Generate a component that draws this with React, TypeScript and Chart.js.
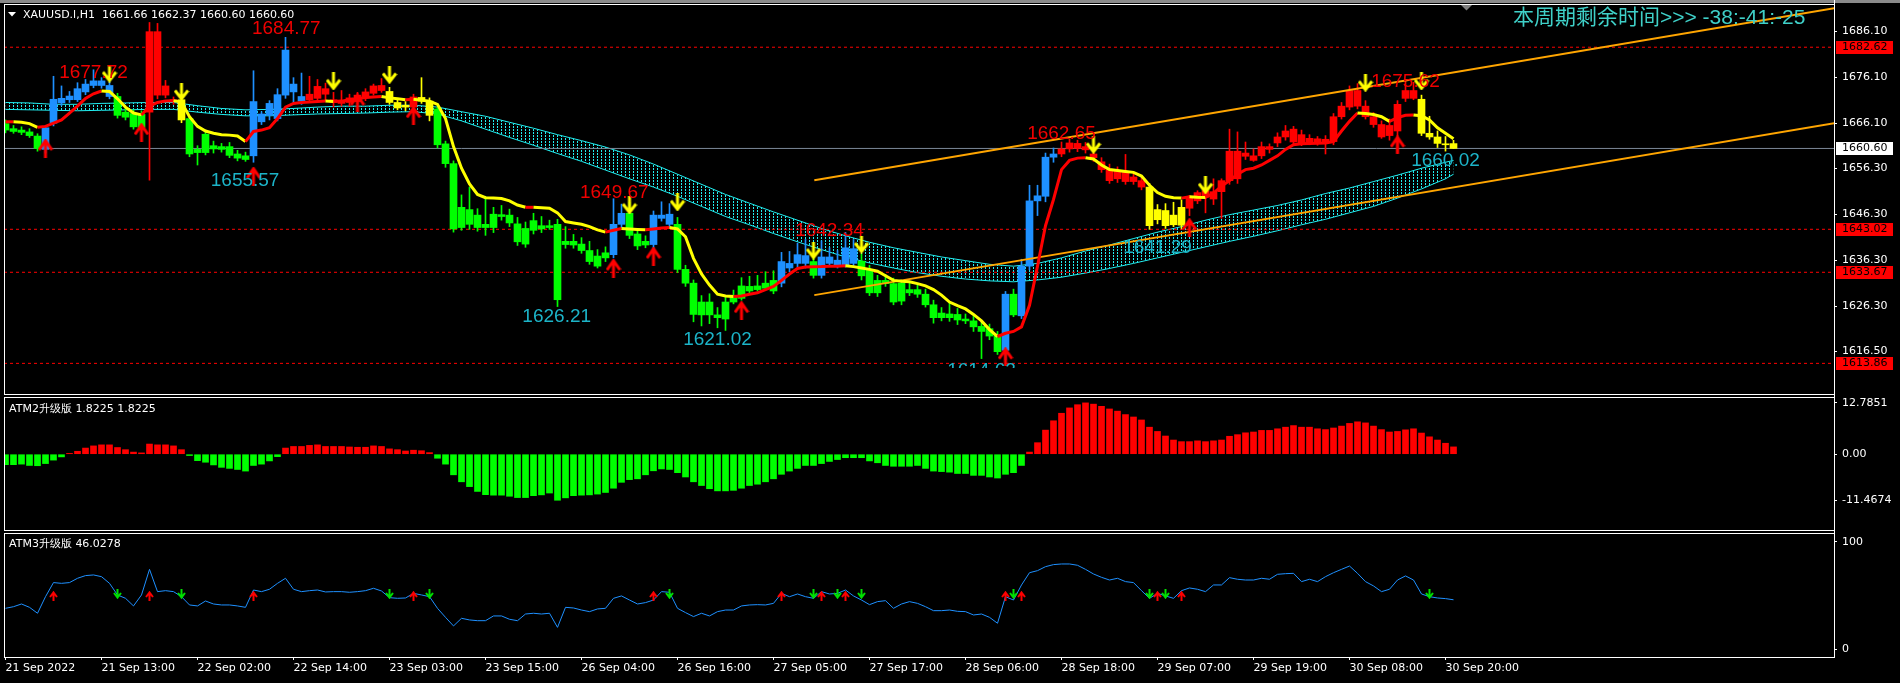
import React, { useEffect, useRef } from "react";
import { Chart, registerables } from "chart.js";

Chart.register(...registerables);

// ---------------- DATA ----------------
const opens = [
  1666.0,1664.9,1664.6,1664.2,1663.3,1660.4,1666.1,1670.5,1671.2,1671.2,
  1672.9,1674.3,1674.3,1671.9,1671.9,1668.5,1668.2,1668.0,1668.5,1672.2,
  1672.2,1671.0,1671.2,1667.1,1660.4,1663.7,1661.2,1661.0,1661.0,1659.4,
  1659.0,1659.0,1666.4,1667.8,1667.1,1672.2,1672.9,1670.9,1671.2,1671.5,
  1672.4,1671.2,1670.4,1670.6,1670.8,1671.6,1672.6,1673.2,1673.0,1670.6,
  1670.0,1669.6,1671.7,1670.9,1669.2,1661.6,1657.3,1647.8,1647.3,1646.1,
  1644.1,1646.3,1646.2,1646.1,1644.2,1643.2,1644.9,1643.8,1643.8,1644.1,
  1640.4,1640.4,1639.8,1638.4,1637.2,1637.9,1637.5,1644.1,1646.5,1642.0,
  1640.4,1639.7,1645.4,1644.1,1644.1,1634.3,1631.3,1627.2,1627.2,1624.4,
  1627.2,1628.6,1630.7,1630.6,1630.7,1631.3,1631.9,1631.3,1634.6,1635.6,
  1635.6,1636.0,1633.0,1635.6,1635.3,1635.3,1635.6,1636.1,1634.3,1631.9,
  1631.9,1631.2,1631.3,1629.9,1629.9,1628.9,1626.6,1624.8,1624.6,1624.5,
  1623.5,1623.1,1621.9,1621.4,1619.8,1616.7,1628.9,1624.2,1635.0,1649.2,
  1650.2,1658.7,1659.4,1660.5,1660.6,1661.0,1659.4,1657.7,1656.0,1655.8,
  1655.4,1654.4,1653.6,1652.2,1647.3,1647.1,1646.1,1647.8,1647.6,1649.2,
  1650.0,1649.6,1651.2,1653.6,1654.0,1659.6,1659.0,1659.0,1660.4,1661.8,
  1663.1,1662.0,1661.8,1661.9,1661.9,1661.9,1662.1,1667.5,1669.6,1673.2,
  1669.8,1667.5,1665.8,1665.6,1664.4,1671.5,1673.2,1671.3,1663.9,1663.1,
  1661.6,1661.66,
];
const highs = [
  1666.8,1665.6,1665.3,1664.9,1663.8,1665.6,1676.3,1674.2,1673.0,1674.9,
  1675.6,1677.72,1676.0,1675.4,1672.6,1669.6,1669.0,1668.8,1688.0,1687.8,
  1675.4,1671.8,1671.8,1667.6,1661.2,1664.6,1662.2,1661.7,1661.9,1660.2,
  1659.8,1677.5,1668.6,1671.0,1673.6,1684.77,1676.0,1677.0,1676.3,1675.6,
  1674.8,1672.8,1673.2,1672.4,1672.8,1673.6,1674.6,1675.8,1673.9,1671.2,
  1670.8,1672.4,1676.0,1671.6,1669.8,1662.2,1657.9,1650.5,1652.2,1647.5,
  1650.2,1647.8,1648.2,1647.4,1645.6,1644.6,1646.5,1645.8,1645.0,1645.2,
  1643.6,1641.9,1641.2,1640.4,1638.6,1639.2,1649.67,1648.5,1648.9,1643.2,
  1641.6,1647.0,1649.0,1648.6,1645.6,1635.2,1632.0,1628.6,1629.0,1626.0,
  1628.2,1629.8,1632.5,1632.8,1633.0,1633.8,1634.0,1638.0,1638.2,1640.0,
  1640.8,1637.0,1640.5,1639.0,1638.4,1642.34,1640.8,1637.6,1635.2,1633.0,
  1633.2,1632.4,1632.0,1631.4,1631.0,1630.0,1627.6,1626.0,1627.0,1625.8,
  1624.6,1624.2,1623.0,1622.4,1620.8,1629.5,1630.0,1636.5,1652.6,1652.6,
  1659.6,1660.7,1662.0,1662.65,1662.4,1661.9,1660.4,1658.6,1657.2,1656.6,
  1659.3,1655.2,1654.4,1653.0,1648.4,1648.6,1648.9,1649.4,1650.4,1651.4,
  1652.0,1654.0,1654.0,1664.8,1664.2,1662.0,1660.5,1662.0,1661.6,1664.0,
  1665.6,1665.4,1664.6,1663.6,1663.2,1663.4,1668.2,1670.6,1674.2,1674.7,
  1671.0,1668.4,1666.6,1667.0,1671.0,1675.62,1675.0,1672.2,1667.6,1664.4,
  1663.2,1662.37,
];
const lows = [
  1664.0,1663.9,1663.6,1663.0,1660.0,1659.6,1665.5,1669.9,1670.6,1670.8,
  1672.3,1673.8,1673.7,1671.4,1667.2,1666.8,1664.8,1664.9,1653.7,1671.4,
  1671.6,1670.2,1666.2,1658.8,1657.0,1659.2,1659.6,1659.8,1658.6,1657.9,
  1657.8,1657.6,1665.8,1666.8,1666.6,1671.5,1670.5,1670.2,1670.6,1670.8,
  1671.0,1669.6,1669.8,1669.8,1670.2,1671.0,1672.2,1672.8,1670.2,1669.0,
  1668.8,1668.9,1670.4,1666.6,1660.7,1656.5,1642.4,1642.8,1643.0,1642.6,
  1641.7,1642.3,1645.0,1643.6,1639.5,1639.1,1642.0,1642.3,1643.0,1626.21,
  1638.9,1638.9,1637.8,1635.4,1634.6,1636.0,1636.8,1643.4,1641.0,1638.6,
  1639.0,1638.6,1644.8,1643.4,1633.6,1630.6,1622.9,1622.0,1622.5,1621.6,
  1621.02,1626.8,1627.6,1629.2,1629.6,1630.0,1629.0,1630.5,1633.8,1634.8,
  1634.6,1632.4,1632.4,1635.0,1634.6,1634.8,1634.8,1632.0,1628.6,1628.4,
  1630.6,1626.6,1626.6,1628.6,1628.2,1626.1,1622.6,1623.1,1623.0,1622.3,
  1622.5,1620.8,1614.9,1619.0,1615.8,1614.62,1624.0,1623.6,1634.2,1646.0,
  1649.0,1657.6,1658.8,1659.8,1659.9,1659.6,1657.8,1655.4,1653.0,1653.2,
  1652.8,1652.8,1651.6,1643.0,1644.2,1643.2,1643.6,1643.2,1646.0,1648.6,
  1646.6,1648.4,1645.4,1652.8,1653.0,1658.2,1657.8,1658.4,1659.6,1661.0,
  1662.4,1661.4,1661.2,1661.4,1661.3,1659.4,1661.4,1667.0,1669.0,1669.2,
  1667.0,1665.2,1662.8,1662.4,1659.7,1670.8,1671.2,1663.4,1662.6,1660.8,
  1660.02,1660.60,
];
const closes = [
  1664.6,1664.3,1664.1,1663.4,1660.6,1665.1,1671.3,1671.5,1672.0,1673.6,
  1674.6,1675.3,1675.3,1674.3,1667.8,1667.4,1665.3,1665.2,1686.0,1686.0,
  1674.2,1671.2,1666.8,1659.4,1659.7,1659.7,1660.5,1660.4,1659.1,1658.5,
  1658.2,1670.8,1668.1,1670.4,1672.3,1682.0,1674.6,1671.9,1672.4,1674.1,
  1673.6,1670.6,1671.0,1671.6,1672.2,1672.9,1674.2,1674.3,1670.6,1669.4,
  1669.6,1671.8,1670.9,1667.8,1661.4,1657.3,1643.1,1643.4,1644.1,1643.4,
  1643.4,1643.4,1645.8,1644.4,1640.3,1639.8,1642.8,1643.1,1643.4,1627.7,
  1639.7,1639.6,1638.4,1636.0,1635.0,1636.8,1644.1,1646.5,1641.7,1639.4,
  1639.6,1646.1,1646.1,1646.3,1634.3,1631.3,1624.5,1624.4,1624.4,1623.8,
  1623.5,1627.2,1628.0,1629.6,1629.9,1630.2,1629.6,1636.0,1635.6,1637.5,
  1637.3,1633.0,1637.0,1637.0,1636.3,1639.0,1638.8,1632.9,1629.2,1629.2,
  1631.2,1627.2,1627.4,1629.2,1628.9,1626.6,1623.8,1623.8,1623.8,1623.3,
  1623.1,1621.8,1620.8,1619.8,1616.4,1628.9,1624.4,1635.0,1649.2,1650.3,
  1658.7,1659.4,1660.5,1661.8,1661.7,1660.3,1658.6,1656.0,1653.6,1654.0,
  1653.4,1653.4,1652.2,1643.8,1645.1,1643.8,1644.0,1643.9,1650.0,1651.0,
  1651.4,1651.2,1653.6,1660.0,1660.0,1658.9,1658.0,1661.0,1661.0,1663.1,
  1664.4,1664.8,1663.6,1662.8,1662.7,1662.6,1667.5,1669.8,1673.2,1669.8,
  1667.5,1665.8,1663.1,1663.4,1670.2,1673.2,1671.5,1663.9,1663.1,1661.7,
  1661.4,1660.60,
];
// candle colour state: B = blue, G = green, R = red, Y = yellow
const candleStates = (
  "GGGGG" + "BBBBBBBBB" + "GGGG" + "RRRR" + "Y" + "GGGGGGGG" + "BBBBBBB" +
  "RRRRRRRRRR" + "YYY" + "R" + "YY" + "GGGGGGGGGGGGGGGGGGGGGG" + "BB" + "GGG" +
  "BBB" + "GGGGGGGGGGGGG" + "BBBB" + "G" + "BBBBB" + "GGGGGGGGGGGGGGGGGG" +
  "B" + "G" + "BBBBB" + "RRRRRRRRRRR" + "YYYYY" +
  "RRRRRRRRRRRRRRRRRRRRRRRRRRRRR" + "YYYYY"
).split("");

const maLine = [
  1666.4,1666.4,1666.3,1666.0,1665.2,1665.4,1666.1,1666.8,1668.3,1669.8,
  1671.5,1672.5,1673.1,1673.0,1671.4,1669.6,1668.3,1667.9,1669.8,1670.6,
  1670.9,1671.0,1670.7,1667.5,1665.4,1664.4,1663.9,1663.6,1663.5,1663.3,
  1662.1,1664.3,1664.6,1665.1,1667.1,1669.6,1670.4,1670.6,1670.7,1670.8,
  1670.9,1670.8,1670.9,1671.2,1671.4,1671.7,1671.8,1671.9,1671.6,1671.4,
  1671.2,1671.3,1671.1,1670.9,1670.2,1667.1,1661.0,1656.3,1652.9,1650.6,
  1649.9,1649.8,1649.7,1649.2,1648.3,1647.8,1647.8,1647.7,1647.6,1646.6,
  1644.7,1644.4,1644.1,1643.6,1642.9,1642.4,1642.8,1643.2,1643.1,1643.0,
  1642.9,1643.1,1643.3,1643.4,1643.1,1641.4,1636.7,1633.3,1630.9,1628.9,
  1628.5,1628.4,1628.5,1628.9,1629.2,1629.9,1630.6,1631.9,1633.3,1634.5,
  1634.8,1634.85,1634.9,1635.0,1635.0,1635.1,1634.9,1634.6,1634.3,1633.9,
  1632.9,1631.9,1631.7,1631.6,1631.2,1630.7,1629.9,1628.7,1627.2,1626.4,
  1625.7,1624.5,1623.1,1621.2,1619.7,1620.4,1620.8,1621.8,1626.5,1635.0,
  1643.8,1649.5,1656.0,1658.0,1658.5,1658.6,1658.3,1657.0,1656.0,1655.8,
  1655.6,1655.4,1654.6,1652.6,1651.0,1650.2,1649.9,1649.8,1650.1,1650.0,
  1649.95,1650.9,1652.4,1653.6,1655.0,1656.0,1656.3,1657.0,1658.0,1659.0,
  1660.4,1661.4,1661.6,1661.7,1661.75,1661.8,1662.1,1664.4,1666.5,1668.3,
  1668.2,1668.0,1667.5,1666.5,1667.3,1667.8,1667.9,1667.7,1666.8,1665.1,
  1663.9,1662.7,
];

const ribbonBars = [
  0,3,6,9,12,15,18,21,24,27,30,33,36,39,42,45,48,51,54,57,60,63,66,69,72,75,
  78,81,84,87,90,93,96,99,102,105,108,111,114,117,120,123,126,129,132,135,
  138,141,144,147,150,153,156,159,162,165,168,171,174,177,180,181,
];
const ribbonTop = [
  1670.6,1670.5,1670.2,1670.2,1670.4,1670.5,1670.6,1670.6,1669.9,1669.3,
  1669.0,1669.1,1669.3,1669.6,1669.8,1669.8,1670.0,1670.0,1669.6,1668.6,
  1667.6,1666.3,1665.0,1663.6,1662.3,1660.9,1659.2,1657.2,1655.0,1652.8,
  1650.6,1648.7,1646.8,1645.0,1643.2,1641.6,1640.2,1639.0,1638.0,1637.0,
  1636.2,1635.4,1635.0,1635.6,1636.8,1638.3,1639.6,1641.0,1642.4,1643.6,
  1645.0,1646.2,1647.2,1648.2,1649.4,1650.8,1652.0,1653.4,1654.8,1656.3,
  1657.6,1658.0,
];
const ribbonBottom = [
  1669.1,1669.0,1668.9,1668.8,1668.9,1669.0,1669.1,1669.1,1668.5,1668.0,
  1667.7,1667.7,1667.9,1668.1,1668.2,1668.3,1668.5,1668.6,1668.1,1666.6,
  1664.8,1663.0,1661.3,1659.5,1657.8,1655.9,1654.0,1652.2,1650.2,1648.0,
  1645.8,1644.0,1642.1,1640.3,1638.6,1637.0,1635.7,1634.6,1633.6,1632.8,
  1632.2,1631.8,1631.6,1632.0,1632.6,1633.5,1634.5,1635.6,1636.8,1638.0,
  1639.2,1640.4,1641.5,1642.7,1644.0,1645.2,1646.6,1648.0,1649.8,1651.8,
  1654.0,1655.0,
];

const channelBars = [101.1, 228.6];
const channelUpper = [1653.7, 1691.1];
const channelLower = [1628.7, 1666.1];

const levelLines = [1682.62, 1643.02, 1633.67, 1613.86];
const currentPrice = 1660.6;

const upArrowBars = [5, 17, 31, 44, 51, 76, 81, 92, 125, 148, 174];
const upArrowPrices = [1660.7, 1664.1, 1654.6, 1670.5, 1667.8, 1634.6, 1637.2, 1625.4, 1615.3, 1643.4, 1661.4];
const downArrowBars = [13, 22, 41, 48, 78, 84, 101, 107, 136, 150, 170, 177];
const downArrowPrices = [1676.9, 1672.9, 1675.2, 1676.6, 1648.2, 1648.9, 1638.4, 1639.7, 1661.4, 1652.6, 1674.9, 1675.2];

const labelTexts = ["1677.72","1684.77","1655.57","1649.67","1626.21","1621.02","1642.34","1614.62","1662.65","1641.29","1675.62","1660.02"];
const labelBars = [11, 35.1, 29.95, 76.1, 68.9, 89.0, 103, 122, 132, 144, 175, 180];
const labelPrices = [1677.1, 1686.6, 1653.6, 1650.9, 1624.0, 1618.9, 1642.6, 1612.2, 1663.7, 1639.0, 1675.2, 1658.0];
const labelKinds = ["hi","hi","lo","hi","lo","lo","hi","lo","hi","lo","hi","lo"];

const priceTicks = [1686.1, 1676.1, 1666.1, 1656.3, 1646.3, 1636.3, 1626.3, 1616.5];

const atm2 = [
  -2.6,-2.6,-2.47,-2.8,-2.87,-2.33,-1.47,-0.67,0.2,0.73,
  1.53,2.07,2.33,2.33,1.67,1.13,0.53,0.33,2.53,2.33,
  2.33,2.07,1.13,-0.33,-1.6,-2.0,-2.67,-3.27,-3.53,-3.8,
  -4.2,-2.8,-2.47,-1.67,-0.6,1.53,1.93,1.93,2.2,2.33,
  1.93,1.93,1.93,1.8,1.73,1.73,2.07,1.93,1.33,1.13,
  0.8,1.0,0.87,0.4,-1.0,-2.47,-5.13,-6.87,-8.07,-9.27,
  -10.07,-10.2,-10.2,-10.47,-10.8,-10.8,-10.33,-10.13,-9.67,-11.4674,
  -10.87,-10.33,-10.2,-10.13,-9.93,-9.53,-8.47,-7.0,-6.33,-6.13,
  -5.13,-4.13,-3.67,-3.8,-4.6,-5.67,-6.87,-7.8,-8.6,-9.13,
  -9.13,-9.0,-8.47,-7.8,-7.47,-6.87,-6.13,-5.0,-4.2,-3.53,
  -2.8,-2.8,-2.33,-1.8,-1.33,-0.87,-0.87,-0.87,-1.67,-2.13,
  -2.8,-3.0,-3.0,-3.0,-2.8,-3.53,-4.2,-4.33,-4.47,-4.8,
  -4.8,-5.27,-5.27,-5.67,-5.93,-5.0,-4.6,-2.8,0.53,2.87,
  6.0,8.33,10.2,11.53,12.33,12.7851,12.47,11.93,11.27,10.73,
  9.87,9.27,8.53,6.73,5.67,4.53,3.53,3.13,3.13,3.33,
  3.13,3.33,3.53,4.47,4.87,5.33,5.53,5.93,5.93,6.33,
  6.73,7.13,6.73,6.73,6.33,6.13,6.53,7.0,7.67,8.07,
  7.8,7.0,6.13,5.53,5.67,6.07,6.33,5.27,4.33,3.53,
  2.73,1.8225,
];
const atm2Ticks = [12.7851, 0, -11.4674];
const atm2TickLabels = ["12.7851", "0.00", "-11.4674"];

const atm3 = [
  38.1,39.6,42.1,39.0,33.5,48.9,62.0,61.3,62.0,66.0,
  68.5,69.1,67.5,61.3,50.5,47.4,40.3,50.5,74.3,53.6,
  54.5,53.6,48.9,41.2,40.3,44.9,42.1,41.2,41.2,40.3,
  39.0,55.1,53.6,55.8,61.3,66.0,55.8,53.6,54.5,55.1,
  53.3,53.6,53.6,53.0,53.6,54.5,56.7,54.2,48.0,47.4,
  47.7,52.0,50.5,48.9,38.1,29.7,21.7,28.8,27.3,26.6,
  26.6,31.0,31.0,27.9,26.6,32.8,33.5,32.8,33.5,20.4,
  39.0,38.4,36.5,35.0,37.5,38.1,47.4,49.6,45.8,42.1,
  43.4,45.8,53.6,53.0,38.1,34.1,30.4,33.5,31.0,35.0,
  36.5,36.5,40.3,41.2,41.5,41.2,42.7,52.0,48.9,51.4,
  48.9,47.4,53.6,51.4,52.0,55.1,49.6,45.8,41.5,44.3,
  45.2,38.1,42.1,44.3,42.7,39.6,35.9,35.9,36.5,35.3,
  35.0,31.9,32.8,29.7,24.2,48.9,45.8,59.8,71.2,73.1,
  76.8,78.7,79.3,79.3,78.1,74.3,70.0,66.9,64.4,66.0,
  62.9,62.0,54.5,47.4,52.0,49.6,47.4,54.5,57.0,55.8,
  53.6,59.8,59.8,66.6,65.1,64.4,64.4,66.0,65.1,69.7,
  70.3,70.6,62.9,65.1,62.9,67.5,71.2,74.3,77.4,70.6,
  62.9,58.9,53.6,55.8,64.4,68.2,64.4,51.4,48.9,47.7,
  47.1,46.0278,
];
const atm3UpBars = [6, 18, 31, 51, 81, 97, 102, 105, 125, 127, 144, 147];
const atm3DownBars = [14, 22, 48, 53, 83, 101, 104, 107, 126, 143, 145, 178];
const ATM3_UP_LEVEL = 49.5;
const ATM3_DOWN_LEVEL = 51.5;
const atm3Ticks = [100, 0];

const timeTickBars = [0, 12, 24, 36, 48, 60, 72, 84, 96, 108, 120, 132, 144, 156, 168, 180];
const timeTickLabels = [
  "21 Sep 2022","21 Sep 13:00","22 Sep 02:00","22 Sep 14:00","23 Sep 03:00",
  "23 Sep 15:00","26 Sep 04:00","26 Sep 16:00","27 Sep 05:00","27 Sep 17:00",
  "28 Sep 06:00","28 Sep 18:00","29 Sep 07:00","29 Sep 19:00","30 Sep 08:00",
  "30 Sep 20:00",
];

const TITLE = "XAUUSD.l,H1  1661.66 1662.37 1660.60 1660.60";
const COUNTDOWN = "本周期剩余时间>>> -38:-41:-25";
const ATM2_TITLE = "ATM2升级版 1.8225 1.8225";
const ATM3_TITLE = "ATM3升级版 46.0278";

// ---------------- STYLE ----------------
const X_MIN = -0.1875;
const X_MAX = 228.5625;
const AXIS_W = 66;
const FONT = '"DejaVu Sans", Verdana, sans-serif';
const STATE_COLOR: Record<string, string> = { B: "#1e90ff", G: "#00ff00", R: "#ff0000", Y: "#ffff00" };

function makeArrow(color: string, dir: "up" | "down", w: number, h: number, lw: number) {
  const c = document.createElement("canvas");
  c.width = w;
  c.height = h;
  const g = c.getContext("2d")!;
  g.strokeStyle = color;
  g.lineWidth = lw;
  g.lineCap = "butt";
  g.lineJoin = "miter";
  const cx = w / 2;
  const head = Math.round(h * 0.5);
  g.beginPath();
  if (dir === "up") {
    g.moveTo(lw / 2, head + lw / 2);
    g.lineTo(cx, lw * 0.7);
    g.lineTo(w - lw / 2, head + lw / 2);
    g.moveTo(cx, lw);
    g.lineTo(cx, h);
  } else {
    g.moveTo(lw / 2, h - head - lw / 2);
    g.lineTo(cx, h - lw * 0.7);
    g.lineTo(w - lw / 2, h - head - lw / 2);
    g.moveTo(cx, h - lw);
    g.lineTo(cx, 0);
  }
  g.stroke();
  return c;
}

function makeHatch(ctx: CanvasRenderingContext2D) {
  const t = document.createElement("canvas");
  t.width = 4;
  t.height = 3;
  const g = t.getContext("2d")!;
  g.fillStyle = "#22eef0";
  g.fillRect(1, 0, 1, 2);
  return ctx.createPattern(t, "repeat");
}

const fitY = (s: any) => {
  s.width = AXIS_W;
  s.paddingTop = 0;
  s.paddingBottom = 0;
  s.paddingLeft = 0;
  s.paddingRight = 0;
};
const fitX = (s: any) => {
  s.height = 26;
  s.paddingTop = 0;
  s.paddingBottom = 0;
  s.paddingLeft = 0;
  s.paddingRight = 0;
};

function xAxis(display: boolean): any {
  return {
    type: "linear",
    min: X_MIN,
    max: X_MAX,
    offset: false,
    display,
    position: "bottom",
    afterFit: fitX,
    afterBuildTicks: (s: any) => {
      s.ticks = timeTickBars.map((v) => ({ value: v }));
    },
    ticks: {
      color: "#ffffff",
      font: { family: FONT, size: 11 },
      autoSkip: false,
      maxRotation: 0,
      minRotation: 0,
      align: "start",
      padding: 2,
      callback: (_v: any, i: number) => timeTickLabels[i],
    },
    grid: { display: true, drawOnChartArea: false, drawTicks: true, tickLength: 3, color: "#ffffff" },
    border: { display: false },
  };
}

function yAxis(min: number, max: number, ticks: number[], fmt: (v: number, i: number) => string): any {
  return {
    type: "linear",
    position: "right",
    min,
    max,
    beginAtZero: false,
    afterFit: fitY,
    afterBuildTicks: (s: any) => {
      s.ticks = ticks.map((v) => ({ value: v }));
    },
    ticks: {
      color: "#ffffff",
      font: { family: FONT, size: 11 },
      autoSkip: false,
      padding: 5,
      callback: (v: any, i: number) => fmt(Number(v), i),
    },
    grid: { display: true, drawOnChartArea: false, drawTicks: true, tickLength: 3, color: "#ffffff" },
    border: { display: false },
  };
}

function frame(ctx: CanvasRenderingContext2D, top: number, bottom: number, h: number) {
  ctx.fillStyle = "#ffffff";
  ctx.fillRect(4, top, 1831, 1);
  ctx.fillRect(4, bottom, 1831, 1);
  ctx.fillRect(4, top, 1, bottom - top + 1);
  ctx.fillRect(1834, 0, 1, h);
}

const baseOptions = (padding: any): any => ({
  responsive: false,
  maintainAspectRatio: false,
  animation: false,
  devicePixelRatio: 1,
  events: [],
  layout: { padding, autoPadding: false },
  plugins: { legend: { display: false }, tooltip: { enabled: false }, title: { display: false } },
});

const blackBg = {
  id: "blackBg",
  beforeDraw(chart: any) {
    const c = chart.ctx;
    c.save();
    c.fillStyle = "#000000";
    c.fillRect(0, 0, chart.width, chart.height);
    c.restore();
  },
};

export default function App() {
  const mainRef = useRef<HTMLCanvasElement>(null);
  const atm2Ref = useRef<HTMLCanvasElement>(null);
  const atm3Ref = useRef<HTMLCanvasElement>(null);

  useEffect(() => {
    const charts: Chart[] = [];
    const idx = opens.map((_, i) => i);

    // ---------- MAIN PRICE CHART ----------
    const mctx = mainRef.current!.getContext("2d")!;
    const hatch = makeHatch(mctx);
    const upArrow = makeArrow("#ff0000", "up", 16, 19, 3);
    const downArrow = makeArrow("#ffff00", "down", 16, 18, 3);

    const mainDecor = {
      id: "mainDecor",
      afterDatasetsDraw(chart: any) {
        const { ctx, chartArea: a, scales } = chart;
        ctx.save();
        ctx.beginPath();
        ctx.rect(a.left, a.top, a.right - a.left, a.bottom - a.top);
        ctx.clip();
        ctx.font = '19px "Liberation Sans", Arial, sans-serif';
        ctx.textAlign = "center";
        ctx.textBaseline = "middle";
        labelTexts.forEach((t, i) => {
          ctx.fillStyle = labelKinds[i] === "hi" ? "#f00000" : "#1cb4c8";
          ctx.fillText(t, scales.x.getPixelForValue(labelBars[i]), scales.y.getPixelForValue(labelPrices[i]));
        });
        ctx.restore();
      },
      afterDraw(chart: any) {
        const { ctx, scales } = chart;
        ctx.save();
        // window frame
        ctx.fillStyle = "#8a8a8a";
        ctx.fillRect(0, 0, chart.width, 3);
        frame(ctx, 4, 394, chart.height);
        // chart shift marker
        ctx.fillStyle = "#808080";
        ctx.beginPath();
        ctx.moveTo(1461, 5);
        ctx.lineTo(1472, 5);
        ctx.lineTo(1466.5, 10.5);
        ctx.closePath();
        ctx.fill();
        // title
        ctx.fillStyle = "#ffffff";
        ctx.beginPath();
        ctx.moveTo(8, 12);
        ctx.lineTo(16, 12);
        ctx.lineTo(12, 16.5);
        ctx.closePath();
        ctx.fill();
        ctx.font = "11px " + FONT;
        ctx.textAlign = "left";
        ctx.textBaseline = "middle";
        ctx.fillText(TITLE, 23, 15);
        // countdown
        ctx.font = '21px "Liberation Sans", "Noto Sans CJK SC", sans-serif';
        ctx.fillStyle = "#3fd0c8";
        ctx.fillText(COUNTDOWN, 1513, 18);
        // axis price boxes
        ctx.font = "11px " + FONT;
        levelLines.forEach((v) => {
          const y = Math.round(scales.y.getPixelForValue(v));
          ctx.fillStyle = "#ff0000";
          ctx.fillRect(1836, y - 6, 57, 13);
          ctx.fillStyle = "#000000";
          ctx.fillText(v.toFixed(2), 1842, y + 0.5);
        });
        const yc = Math.round(scales.y.getPixelForValue(currentPrice));
        ctx.fillStyle = "#ffffff";
        ctx.fillRect(1836, yc - 6, 57, 13);
        ctx.fillStyle = "#000000";
        ctx.fillText(currentPrice.toFixed(2), 1842, yc + 0.5);
        ctx.restore();
      },
    };

    const levelDatasets = levelLines.map((v) => ({
      type: "line",
      data: [{ x: X_MIN, y: v }, { x: X_MAX, y: v }],
      borderColor: "#ff0000",
      borderWidth: 1,
      borderDash: [3, 3],
      pointRadius: 0,
      order: 8,
    }));

    const main = new Chart(mainRef.current!, {
      type: "bar",
      data: {
        datasets: [
          {
            type: "line",
            data: upArrowBars.map((b, i) => ({ x: b, y: upArrowPrices[i] })),
            showLine: false,
            pointStyle: upArrow,
            pointRadius: 8,
            order: 1,
          },
          {
            type: "line",
            data: downArrowBars.map((b, i) => ({ x: b, y: downArrowPrices[i] })),
            showLine: false,
            pointStyle: downArrow,
            pointRadius: 8,
            order: 1,
          },
          {
            type: "line",
            data: idx.map((i) => ({ x: i, y: maLine[i] })),
            borderColor: "#ff0000",
            borderWidth: 3,
            pointRadius: 0,
            segment: {
              borderColor: (c: any) => (c.p1.parsed.y >= c.p0.parsed.y ? "#ff0000" : "#ffff00"),
            },
            order: 2,
          },
          {
            type: "line",
            data: channelBars.map((b, i) => ({ x: b, y: channelUpper[i] })),
            borderColor: "#ffa500",
            borderWidth: 2,
            pointRadius: 0,
            order: 3,
          },
          {
            type: "line",
            data: channelBars.map((b, i) => ({ x: b, y: channelLower[i] })),
            borderColor: "#ffa500",
            borderWidth: 2,
            pointRadius: 0,
            order: 3,
          },
          {
            type: "bar",
            data: idx.map((i) => ({ x: i, y: [opens[i], closes[i]] })),
            backgroundColor: idx.map((i) => STATE_COLOR[candleStates[i]]),
            barThickness: 7,
            minBarLength: 1,
            grouped: false,
            borderWidth: 0,
            order: 4,
          },
          {
            type: "bar",
            data: idx.map((i) => ({ x: i, y: [lows[i], highs[i]] })),
            backgroundColor: idx.map((i) => STATE_COLOR[candleStates[i]]),
            barThickness: 1,
            grouped: false,
            borderWidth: 0,
            order: 5,
          },
          {
            type: "line",
            data: [{ x: X_MIN, y: currentPrice }, { x: X_MAX, y: currentPrice }],
            borderColor: "#7b8797",
            borderWidth: 1,
            pointRadius: 0,
            order: 7,
          },
          ...levelDatasets,
          {
            type: "line",
            data: ribbonBars.map((b, i) => ({ x: b, y: ribbonTop[i] })),
            borderColor: "#22eef0",
            borderWidth: 1,
            pointRadius: 0,
            fill: false,
            order: 9,
          },
          {
            type: "line",
            data: ribbonBars.map((b, i) => ({ x: b, y: ribbonBottom[i] })),
            borderColor: "#22eef0",
            backgroundColor: hatch,
            borderWidth: 1,
            pointRadius: 0,
            fill: "-1",
            order: 9,
          },
        ] as any,
      },
      options: {
        ...baseOptions({ left: 4, top: 4, right: 0, bottom: 2 }),
        scales: {
          x: xAxis(false),
          y: yAxis(1612.85, 1692.02, priceTicks, (v) => v.toFixed(2)),
        },
      },
      plugins: [blackBg, mainDecor],
    } as any);
    charts.push(main);

    // ---------- ATM2 HISTOGRAM ----------
    const atm2Decor = {
      id: "atm2Decor",
      afterDraw(chart: any) {
        const ctx = chart.ctx;
        ctx.save();
        frame(ctx, 1, 134, chart.height);
        ctx.fillStyle = "#ffffff";
        ctx.font = "11px " + FONT;
        ctx.textAlign = "left";
        ctx.textBaseline = "middle";
        ctx.fillText(ATM2_TITLE, 9, 13);
        ctx.restore();
      },
    };
    const c2 = new Chart(atm2Ref.current!, {
      type: "bar",
      data: {
        datasets: [
          {
            type: "bar",
            data: idx.map((i) => ({ x: i, y: atm2[i] })),
            backgroundColor: idx.map((i) => (atm2[i] >= 0 ? "#ff0000" : "#00ff00")),
            barThickness: 6,
            grouped: false,
            borderWidth: 0,
          },
        ] as any,
      },
      options: {
        ...baseOptions({ left: 4, top: 2, right: 0, bottom: 2 }),
        scales: {
          x: xAxis(false),
          y: yAxis(-12.4, 14.0, atm2Ticks, (_v, i) => atm2TickLabels[i]),
        },
      },
      plugins: [blackBg, atm2Decor],
    } as any);
    charts.push(c2);

    // ---------- ATM3 LINE ----------
    const smallUp = makeArrow("#ff0000", "up", 9, 10, 2);
    const smallDown = makeArrow("#00e000", "down", 9, 10, 2);
    const atm3Decor = {
      id: "atm3Decor",
      afterDraw(chart: any) {
        const ctx = chart.ctx;
        ctx.save();
        frame(ctx, 1, 125, 126);
        ctx.fillStyle = "#ffffff";
        ctx.font = "11px " + FONT;
        ctx.textAlign = "left";
        ctx.textBaseline = "middle";
        ctx.fillText(ATM3_TITLE, 9, 12);
        ctx.restore();
      },
    };
    const c3 = new Chart(atm3Ref.current!, {
      type: "line",
      data: {
        datasets: [
          {
            data: atm3UpBars.map((b) => ({ x: b, y: ATM3_UP_LEVEL })),
            showLine: false,
            pointStyle: smallUp,
            pointRadius: 5,
            order: 1,
          },
          {
            data: atm3DownBars.map((b) => ({ x: b, y: ATM3_DOWN_LEVEL })),
            showLine: false,
            pointStyle: smallDown,
            pointRadius: 5,
            order: 1,
          },
          {
            data: idx.map((i) => ({ x: i, y: atm3[i] })),
            borderColor: "#1e90ff",
            borderWidth: 1,
            pointRadius: 0,
            order: 2,
          },
        ] as any,
      },
      options: {
        ...baseOptions({ left: 4, top: 2, right: 0, bottom: 0 }),
        scales: {
          x: xAxis(true),
          y: yAxis(-7.16, 107.16, atm3Ticks, (v) => String(Math.round(v))),
        },
      },
      plugins: [blackBg, atm3Decor],
    } as any);
    charts.push(c3);

    return () => charts.forEach((c) => c.destroy());
  }, []);

  const cv = (top: number, h: number): React.CSSProperties => ({
    position: "absolute",
    left: 0,
    top,
    width: 1900,
    height: h,
    display: "block",
  });

  return (
    <div
      style={{
        position: "fixed",
        left: 0,
        top: 0,
        width: 1900,
        height: 683,
        background: "#000000",
        overflow: "hidden",
      }}
    >
      <canvas ref={mainRef} width={1900} height={396} style={cv(0, 396)} />
      <canvas ref={atm2Ref} width={1900} height={136} style={cv(396, 136)} />
      <canvas ref={atm3Ref} width={1900} height={151} style={cv(532, 151)} />
    </div>
  );
}
